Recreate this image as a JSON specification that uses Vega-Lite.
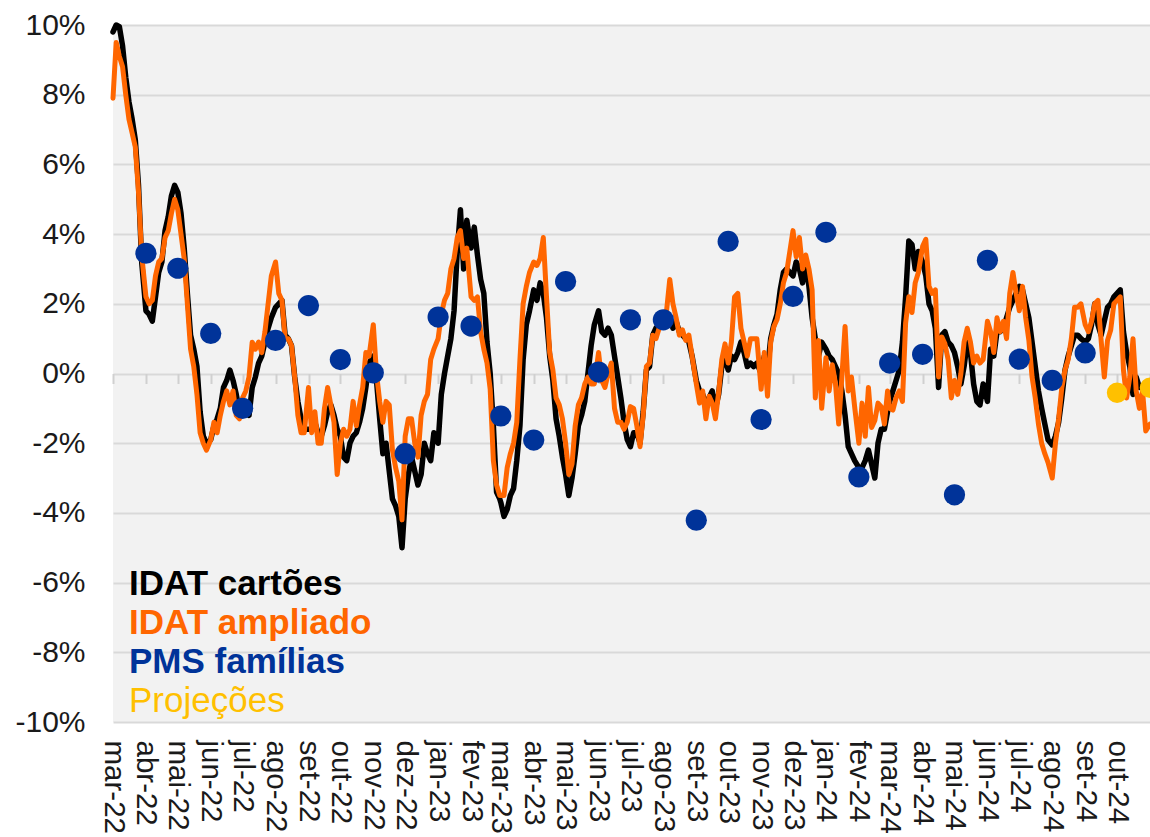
{
"$schema": "https://vega.github.io/schema/vega-lite/v6.json",
"width": 1037, "height": 697,
"autosize": {"type": "none"},
"padding": {"left": 113, "top": 25, "right": 0, "bottom": 115},
"background": "white",
"config": {
  "view": {"fill": "#f2f2f2", "stroke": null},
  "font": "Liberation Sans",
  "axis": {"labelFont": "Liberation Sans", "labelColor": "#1a1a1a"}
},
"datasets": {
"idat": [
{"d":"2022-03-01","c":9.8,"a":7.9},{"d":"2022-03-04","c":10.0,"a":9.5},{"d":"2022-03-07","c":9.95,"a":9.1},{"d":"2022-03-10","c":9.4,"a":8.8},{"d":"2022-03-13","c":8.5,"a":8.0},{"d":"2022-03-16","c":7.8,"a":7.3},{"d":"2022-03-19","c":7.3,"a":6.9},{"d":"2022-03-22","c":6.7,"a":6.5},{"d":"2022-03-25","c":5.4,"a":5.2},{"d":"2022-03-28","c":3.2,"a":3.4},
{"d":"2022-04-01","c":1.8,"a":2.2},{"d":"2022-04-04","c":1.7,"a":2.0},{"d":"2022-04-07","c":1.5,"a":2.1},{"d":"2022-04-10","c":2.2,"a":2.8},{"d":"2022-04-13","c":2.9,"a":3.2},{"d":"2022-04-16","c":3.2,"a":3.3},{"d":"2022-04-19","c":4.1,"a":3.9},{"d":"2022-04-22","c":4.5,"a":4.1},{"d":"2022-04-25","c":5.1,"a":4.6},{"d":"2022-04-28","c":5.4,"a":5.0},
{"d":"2022-05-01","c":5.2,"a":4.7},{"d":"2022-05-04","c":4.6,"a":4.0},{"d":"2022-05-07","c":3.6,"a":3.3},{"d":"2022-05-10","c":2.3,"a":2.0},{"d":"2022-05-13","c":1.1,"a":0.7},{"d":"2022-05-16","c":0.7,"a":0.2},{"d":"2022-05-19","c":0.2,"a":-0.6},{"d":"2022-05-22","c":-1.1,"a":-1.7},{"d":"2022-05-25","c":-1.8,"a":-2.0},{"d":"2022-05-28","c":-2.0,"a":-2.2},
{"d":"2022-06-01","c":-1.9,"a":-1.9},{"d":"2022-06-04","c":-1.5,"a":-1.4},{"d":"2022-06-07","c":-1.3,"a":-1.7},{"d":"2022-06-10","c":-1.0,"a":-1.2},{"d":"2022-06-13","c":-0.4,"a":-0.8},{"d":"2022-06-16","c":-0.2,"a":-0.5},{"d":"2022-06-19","c":0.1,"a":-0.9},{"d":"2022-06-22","c":-0.2,"a":-0.5},{"d":"2022-06-25","c":-0.6,"a":-1.2},{"d":"2022-06-28","c":-1.1,"a":-1.3},
{"d":"2022-07-01","c":-1.1,"a":-0.7},{"d":"2022-07-04","c":-1.1,"a":-0.5},{"d":"2022-07-07","c":-1.2,"a":-0.1},{"d":"2022-07-10","c":-0.4,"a":0.9},{"d":"2022-07-13","c":-0.1,"a":0.7},{"d":"2022-07-16","c":0.3,"a":0.9},{"d":"2022-07-19","c":0.5,"a":0.6},{"d":"2022-07-22","c":0.9,"a":1.2},{"d":"2022-07-25","c":1.3,"a":2.0},{"d":"2022-07-28","c":1.6,"a":2.8},
{"d":"2022-08-01","c":1.9,"a":3.2},{"d":"2022-08-04","c":2.0,"a":2.3},{"d":"2022-08-07","c":2.1,"a":2.1},{"d":"2022-08-10","c":1.1,"a":1.0},{"d":"2022-08-13","c":1.0,"a":1.0},{"d":"2022-08-16","c":0.8,"a":0.8},{"d":"2022-08-19","c":-0.1,"a":-0.1},{"d":"2022-08-22","c":-0.8,"a":-1.2},{"d":"2022-08-25","c":-1.3,"a":-1.7},{"d":"2022-08-28","c":-1.6,"a":-1.7},
{"d":"2022-09-01","c":-1.6,"a":-0.4},{"d":"2022-09-04","c":-1.6,"a":-1.7},{"d":"2022-09-07","c":-1.4,"a":-1.1},{"d":"2022-09-10","c":-1.7,"a":-2.0},{"d":"2022-09-13","c":-1.8,"a":-2.0},{"d":"2022-09-16","c":-1.5,"a":-1.0},{"d":"2022-09-19","c":-1.1,"a":-0.4},{"d":"2022-09-22","c":-0.9,"a":-0.9},{"d":"2022-09-25","c":-1.2,"a":-1.4},{"d":"2022-09-28","c":-1.6,"a":-2.9},
{"d":"2022-10-01","c":-1.8,"a":-2.0},{"d":"2022-10-04","c":-2.4,"a":-1.6},{"d":"2022-10-07","c":-2.5,"a":-1.8},{"d":"2022-10-10","c":-2.0,"a":-1.6},{"d":"2022-10-13","c":-1.8,"a":-0.8},{"d":"2022-10-16","c":-1.7,"a":-1.5},{"d":"2022-10-19","c":-1.4,"a":-0.9},{"d":"2022-10-22","c":-1.0,"a":-0.4},{"d":"2022-10-25","c":-0.4,"a":0.6},{"d":"2022-10-28","c":0.3,"a":0.5},
{"d":"2022-11-01","c":0.5,"a":1.4},{"d":"2022-11-04","c":-0.2,"a":0.0},{"d":"2022-11-07","c":-1.3,"a":-0.8},{"d":"2022-11-10","c":-2.3,"a":-1.4},{"d":"2022-11-13","c":-2.0,"a":-0.8},{"d":"2022-11-16","c":-2.8,"a":-0.9},{"d":"2022-11-19","c":-3.6,"a":-2.2},{"d":"2022-11-22","c":-3.8,"a":-2.7},{"d":"2022-11-25","c":-4.1,"a":-3.1},{"d":"2022-11-28","c":-5.0,"a":-4.2},
{"d":"2022-12-01","c":-3.6,"a":-1.8},{"d":"2022-12-04","c":-2.9,"a":-1.3},{"d":"2022-12-07","c":-2.4,"a":-1.3},{"d":"2022-12-10","c":-2.8,"a":-2.0},{"d":"2022-12-13","c":-3.2,"a":-2.4},{"d":"2022-12-16","c":-2.9,"a":-1.2},{"d":"2022-12-19","c":-2.0,"a":-0.8},{"d":"2022-12-22","c":-2.3,"a":-0.6},{"d":"2022-12-25","c":-2.5,"a":0.4},{"d":"2022-12-28","c":-1.7,"a":0.7},
{"d":"2023-01-01","c":-2.0,"a":1.0},{"d":"2023-01-04","c":-0.6,"a":1.7},{"d":"2023-01-07","c":0.0,"a":2.1},{"d":"2023-01-10","c":0.5,"a":2.3},{"d":"2023-01-13","c":1.0,"a":3.0},{"d":"2023-01-16","c":1.8,"a":3.3},{"d":"2023-01-19","c":3.5,"a":3.9},{"d":"2023-01-22","c":4.7,"a":4.1},{"d":"2023-01-25","c":3.0,"a":3.3},{"d":"2023-01-28","c":4.4,"a":3.6},
{"d":"2023-02-01","c":3.6,"a":2.2},{"d":"2023-02-04","c":4.2,"a":2.1},{"d":"2023-02-07","c":3.4,"a":2.2},{"d":"2023-02-10","c":2.7,"a":1.2},{"d":"2023-02-13","c":2.3,"a":0.7},{"d":"2023-02-16","c":0.9,"a":0.3},{"d":"2023-02-19","c":0.0,"a":-0.45},{"d":"2023-02-22","c":-1.5,"a":-2.5},{"d":"2023-02-25","c":-3.4,"a":-3.2},{"d":"2023-02-28","c":-3.6,"a":-3.5},
{"d":"2023-03-01","c":-3.7,"a":-3.5},{"d":"2023-03-04","c":-4.1,"a":-3.5},{"d":"2023-03-07","c":-3.9,"a":-2.7},{"d":"2023-03-10","c":-3.5,"a":-2.3},{"d":"2023-03-13","c":-3.3,"a":-2.0},{"d":"2023-03-16","c":-2.5,"a":-1.4},{"d":"2023-03-19","c":-1.5,"a":0.4},{"d":"2023-03-22","c":0.4,"a":2.0},{"d":"2023-03-25","c":1.4,"a":2.5},{"d":"2023-03-28","c":1.8,"a":2.9},
{"d":"2023-04-01","c":2.4,"a":3.2},{"d":"2023-04-04","c":2.1,"a":3.1},{"d":"2023-04-07","c":2.6,"a":3.3},{"d":"2023-04-10","c":2.3,"a":3.9},{"d":"2023-04-13","c":1.6,"a":2.2},{"d":"2023-04-16","c":0.5,"a":0.6},{"d":"2023-04-19","c":-0.2,"a":0.1},{"d":"2023-04-22","c":-1.3,"a":-0.7},{"d":"2023-04-25","c":-1.8,"a":-0.9},{"d":"2023-04-28","c":-2.4,"a":-1.3},
{"d":"2023-05-01","c":-2.9,"a":-2.0},{"d":"2023-05-04","c":-3.5,"a":-2.9},{"d":"2023-05-07","c":-3.0,"a":-2.6},{"d":"2023-05-10","c":-2.3,"a":-1.5},{"d":"2023-05-13","c":-1.5,"a":-0.9},{"d":"2023-05-16","c":-1.2,"a":-0.7},{"d":"2023-05-19","c":-0.8,"a":-0.3},{"d":"2023-05-22","c":0.0,"a":-0.1},{"d":"2023-05-25","c":0.8,"a":-0.3},{"d":"2023-05-28","c":1.4,"a":-0.3},
{"d":"2023-06-01","c":1.8,"a":0.6},{"d":"2023-06-04","c":1.2,"a":-0.2},{"d":"2023-06-07","c":1.1,"a":-0.4},{"d":"2023-06-10","c":1.3,"a":0.0},{"d":"2023-06-13","c":1.1,"a":0.3},{"d":"2023-06-16","c":0.5,"a":-1.0},{"d":"2023-06-19","c":-0.1,"a":-1.4},{"d":"2023-06-22","c":-0.7,"a":-1.4},{"d":"2023-06-25","c":-1.4,"a":-1.6},{"d":"2023-06-28","c":-1.9,"a":-1.4},
{"d":"2023-07-01","c":-2.1,"a":-0.95},{"d":"2023-07-04","c":-1.7,"a":-1.0},{"d":"2023-07-07","c":-1.7,"a":-1.5},{"d":"2023-07-10","c":-2.0,"a":-2.1},{"d":"2023-07-13","c":-1.1,"a":-1.2},{"d":"2023-07-16","c":0.1,"a":0.2},{"d":"2023-07-19","c":0.2,"a":0.3},{"d":"2023-07-22","c":1.1,"a":1.1},{"d":"2023-07-25","c":1.3,"a":1.0},{"d":"2023-07-28","c":1.4,"a":1.3},
{"d":"2023-08-01","c":1.4,"a":1.4},{"d":"2023-08-04","c":1.5,"a":1.8},{"d":"2023-08-07","c":1.6,"a":2.7},{"d":"2023-08-10","c":1.3,"a":2.0},{"d":"2023-08-13","c":1.5,"a":1.6},{"d":"2023-08-16","c":1.2,"a":1.1},{"d":"2023-08-19","c":1.1,"a":1.25},{"d":"2023-08-22","c":1.0,"a":0.95},{"d":"2023-08-25","c":0.9,"a":1.1},{"d":"2023-08-28","c":0.5,"a":0.5},
{"d":"2023-09-01","c":-0.2,"a":-0.3},{"d":"2023-09-04","c":-0.5,"a":-0.85},{"d":"2023-09-07","c":-0.6,"a":-0.5},{"d":"2023-09-10","c":-0.9,"a":-1.3},{"d":"2023-09-13","c":-0.7,"a":-0.65},{"d":"2023-09-16","c":-0.5,"a":-0.85},{"d":"2023-09-19","c":-1.0,"a":-1.3},{"d":"2023-09-22","c":-0.6,"a":-0.55},{"d":"2023-09-25","c":0.2,"a":0.4},{"d":"2023-09-28","c":0.4,"a":0.85},
{"d":"2023-10-01","c":0.1,"a":0.3},{"d":"2023-10-04","c":0.5,"a":0.9},{"d":"2023-10-07","c":0.4,"a":2.2},{"d":"2023-10-10","c":0.6,"a":2.3},{"d":"2023-10-13","c":0.9,"a":1.3},{"d":"2023-10-16","c":0.6,"a":0.9},{"d":"2023-10-19","c":0.2,"a":0.5},{"d":"2023-10-22","c":0.3,"a":1.0},{"d":"2023-10-25","c":0.2,"a":1.0},{"d":"2023-10-28","c":0.3,"a":1.0},
{"d":"2023-11-01","c":0.0,"a":-0.45},{"d":"2023-11-04","c":0.5,"a":0.6},{"d":"2023-11-07","c":0.1,"a":-0.65},{"d":"2023-11-10","c":1.0,"a":0.9},{"d":"2023-11-13","c":1.4,"a":1.35},{"d":"2023-11-16","c":1.7,"a":1.55},{"d":"2023-11-19","c":2.4,"a":2.0},{"d":"2023-11-22","c":2.9,"a":2.6},{"d":"2023-11-25","c":3.0,"a":2.9},{"d":"2023-11-28","c":2.9,"a":3.5},
{"d":"2023-12-01","c":2.8,"a":4.1},{"d":"2023-12-04","c":3.2,"a":3.35},{"d":"2023-12-07","c":3.0,"a":3.9},{"d":"2023-12-10","c":2.6,"a":3.0},{"d":"2023-12-13","c":3.2,"a":3.4},{"d":"2023-12-16","c":2.5,"a":3.0},{"d":"2023-12-19","c":1.6,"a":2.4},{"d":"2023-12-22","c":1.0,"a":-0.7},{"d":"2023-12-25","c":0.5,"a":0.95},{"d":"2023-12-28","c":0.9,"a":-1.0},
{"d":"2024-01-01","c":0.7,"a":0.45},{"d":"2024-01-04","c":0.5,"a":-0.5},{"d":"2024-01-07","c":0.4,"a":0.25},{"d":"2024-01-10","c":0.2,"a":-0.3},{"d":"2024-01-13","c":0.0,"a":-1.45},{"d":"2024-01-16","c":-0.5,"a":-0.1},{"d":"2024-01-19","c":-1.2,"a":1.35},{"d":"2024-01-22","c":-2.1,"a":-0.5},{"d":"2024-01-25","c":-2.3,"a":-0.1},{"d":"2024-01-28","c":-2.5,"a":-0.95},
{"d":"2024-02-01","c":-2.7,"a":-2.0},{"d":"2024-02-04","c":-2.7,"a":-0.85},{"d":"2024-02-07","c":-2.5,"a":-1.8},{"d":"2024-02-10","c":-2.2,"a":-0.4},{"d":"2024-02-13","c":-2.6,"a":-1.55},{"d":"2024-02-16","c":-3.0,"a":-1.35},{"d":"2024-02-19","c":-2.0,"a":-0.85},{"d":"2024-02-22","c":-1.6,"a":-0.95},{"d":"2024-02-25","c":-1.6,"a":-1.45},{"d":"2024-02-28","c":-1.1,"a":-0.5},
{"d":"2024-03-01","c":-0.8,"a":-1.0},{"d":"2024-03-04","c":-0.5,"a":-1.05},{"d":"2024-03-07","c":-0.2,"a":-0.7},{"d":"2024-03-10","c":0.1,"a":-0.5},{"d":"2024-03-13","c":0.9,"a":-0.8},{"d":"2024-03-16","c":2.2,"a":1.45},{"d":"2024-03-19","c":3.8,"a":2.2},{"d":"2024-03-22","c":3.7,"a":1.75},{"d":"2024-03-25","c":3.0,"a":2.6},{"d":"2024-03-28","c":3.5,"a":2.9},
{"d":"2024-04-01","c":3.2,"a":3.65},{"d":"2024-04-04","c":2.8,"a":3.85},{"d":"2024-04-07","c":2.0,"a":2.5},{"d":"2024-04-10","c":1.8,"a":2.3},{"d":"2024-04-13","c":1.3,"a":2.4},{"d":"2024-04-16","c":-0.4,"a":-0.1},{"d":"2024-04-19","c":1.1,"a":1.05},{"d":"2024-04-22","c":1.2,"a":0.85},{"d":"2024-04-25","c":0.9,"a":0.4},{"d":"2024-04-28","c":0.8,"a":-0.7},
{"d":"2024-05-01","c":0.6,"a":-0.2},{"d":"2024-05-04","c":0.2,"a":-0.6},{"d":"2024-05-07","c":-0.3,"a":0.0},{"d":"2024-05-10","c":0.2,"a":0.9},{"d":"2024-05-13","c":0.9,"a":1.3},{"d":"2024-05-16","c":0.6,"a":0.9},{"d":"2024-05-19","c":-0.3,"a":0.3},{"d":"2024-05-22","c":-0.8,"a":0.5},{"d":"2024-05-25","c":-0.9,"a":0.3},{"d":"2024-05-28","c":-0.3,"a":0.4},
{"d":"2024-06-01","c":-0.8,"a":1.5},{"d":"2024-06-04","c":0.7,"a":1.2},{"d":"2024-06-07","c":0.5,"a":0.6},{"d":"2024-06-10","c":1.2,"a":1.6},{"d":"2024-06-13","c":1.2,"a":1.2},{"d":"2024-06-16","c":1.3,"a":1.5},{"d":"2024-06-19","c":1.6,"a":1.0},{"d":"2024-06-22","c":1.9,"a":2.3},{"d":"2024-06-25","c":2.1,"a":2.9},{"d":"2024-06-28","c":2.3,"a":2.3},
{"d":"2024-07-01","c":2.5,"a":1.8},{"d":"2024-07-04","c":2.4,"a":2.5},{"d":"2024-07-07","c":2.0,"a":1.6},{"d":"2024-07-10","c":1.6,"a":0.95},{"d":"2024-07-13","c":0.9,"a":-0.1},{"d":"2024-07-16","c":0.2,"a":-0.7},{"d":"2024-07-19","c":-0.5,"a":-1.45},{"d":"2024-07-22","c":-1.0,"a":-2.0},{"d":"2024-07-25","c":-1.45,"a":-2.3},{"d":"2024-07-28","c":-1.9,"a":-2.55},
{"d":"2024-08-01","c":-2.05,"a":-3.0},{"d":"2024-08-04","c":-1.8,"a":-2.0},{"d":"2024-08-07","c":-1.4,"a":-1.3},{"d":"2024-08-10","c":-0.7,"a":-0.4},{"d":"2024-08-13","c":0.1,"a":0.1},{"d":"2024-08-16","c":0.5,"a":0.4},{"d":"2024-08-19","c":0.8,"a":1.0},{"d":"2024-08-22","c":1.1,"a":1.9},{"d":"2024-08-25","c":1.1,"a":1.9},{"d":"2024-08-28","c":1.0,"a":2.0},
{"d":"2024-09-01","c":0.9,"a":1.4},{"d":"2024-09-04","c":1.0,"a":1.2},{"d":"2024-09-07","c":1.4,"a":1.5},{"d":"2024-09-10","c":2.0,"a":2.0},{"d":"2024-09-13","c":1.4,"a":2.1},{"d":"2024-09-16","c":1.1,"a":0.95},{"d":"2024-09-19","c":1.5,"a":-0.1},{"d":"2024-09-22","c":1.9,"a":0.95},{"d":"2024-09-25","c":2.0,"a":1.25},{"d":"2024-09-28","c":2.2,"a":2.0},
{"d":"2024-10-01","c":2.3,"a":2.1},{"d":"2024-10-04","c":2.4,"a":2.2},{"d":"2024-10-07","c":1.2,"a":0.1},{"d":"2024-10-10","c":0.6,"a":-0.7},{"d":"2024-10-13","c":0.2,"a":-0.1},{"d":"2024-10-16","c":-0.6,"a":1.0},{"d":"2024-10-19","c":-0.1,"a":-0.5},{"d":"2024-10-22","c":-0.4,"a":-1.0},{"d":"2024-10-25","c":null,"a":-0.5},{"d":"2024-10-28","c":null,"a":-1.65},
{"d":"2024-11-01","c":null,"a":-1.45}
],
"pms": [
{"d":"2022-04-01","v":3.45},{"d":"2022-05-01","v":3.02},{"d":"2022-06-01","v":1.15},{"d":"2022-07-01","v":-1.0},{"d":"2022-08-01","v":0.95},{"d":"2022-09-01","v":1.95},{"d":"2022-10-01","v":0.4},{"d":"2022-11-01","v":0.02},{"d":"2022-12-01","v":-2.3},
{"d":"2023-01-01","v":1.62},{"d":"2023-02-01","v":1.36},{"d":"2023-03-01","v":-1.22},{"d":"2023-04-01","v":-1.91},{"d":"2023-05-01","v":2.64},{"d":"2023-06-01","v":0.04},{"d":"2023-07-01","v":1.54},{"d":"2023-08-01","v":1.54},{"d":"2023-09-01","v":-4.21},{"d":"2023-10-01","v":3.79},{"d":"2023-11-01","v":-1.32},{"d":"2023-12-01","v":2.21},
{"d":"2024-01-01","v":4.05},{"d":"2024-02-01","v":-2.97},{"d":"2024-03-01","v":0.3},{"d":"2024-04-01","v":0.55},{"d":"2024-05-01","v":-3.48},{"d":"2024-06-01","v":3.25},{"d":"2024-07-01","v":0.41},{"d":"2024-08-01","v":-0.2},{"d":"2024-09-01","v":0.59}
],
"proj": [
{"d":"2024-10-01","v":-0.55},{"d":"2024-11-01","v":-0.41}
]
},
"resolve": {"axis": {"x": "independent"}},
"layer": [
{
  "data": {"name": "idat"},
  "mark": {"type": "line", "strokeWidth": 5.5, "strokeJoin": "round", "strokeCap": "round"},
  "encoding": {
    "x": {"field": "d", "type": "temporal",
      "scale": {"type": "utc", "nice": false, "domain": [{"year": 2022, "month": 3, "date": 1, "utc": true}, {"year": 2024, "month": 11, "date": 1, "utc": true}]},
      "axis": {"orient": "bottom", "title": null, "grid": false, "domain": false, "ticks": false, "tickSize": 0,
        "tickCount": {"interval": "month", "step": 1},
        "labelAngle": 90, "labelAlign": "left", "labelBaseline": "middle", "labelPadding": 18, "labelFontSize": 29.5, "labelFlush": false, "labelOverlap": false,
        "labelExpr": "(utcyear(datum.value) == 2024 && utcmonth(datum.value) == 10) ? '' : ['jan','fev','mar','abr','mai','jun','jul','ago','set','out','nov','dez'][utcmonth(datum.value)] + '-' + utcFormat(datum.value, '%y')"}},
    "y": {"field": "c", "type": "quantitative", "title": null,
      "scale": {"domain": [-10, 10], "nice": false, "zero": false},
      "axis": {"values": [-10, -8, -6, -4, -2, 0, 2, 4, 6, 8, 10], "labelExpr": "datum.value + '%'", "grid": true, "gridColor": "#d9d9d9", "gridWidth": 2, "domain": false, "ticks": false, "tickSize": 0, "labelPadding": 28, "labelFontSize": 30}},
    "color": {"datum": "IDAT cartões", "type": "nominal",
      "scale": {"domain": ["IDAT cartões", "IDAT ampliado", "PMS famílias", "Projeções"], "range": ["#000000", "#ff6600", "#003399", "#ffc000"]},
      "legend": {"orient": "none", "legendX": -19, "legendY": 541, "title": null, "padding": 0, "symbolSize": 0, "symbolOpacity": 0, "symbolStrokeWidth": 0, "labelOffset": 0, "labelFontSize": 35, "labelFont": "Liberation Sans", "labelLimit": 0, "rowPadding": 3,
        "encode": {"symbols": {"update": {"opacity": {"value": 0}}}, "labels": {"update": {"fill": {"scale": "color", "field": "value"}, "fontWeight": {"signal": "datum.value === 'Projeções' ? 'normal' : 'bold'"}}}}}}
  }
},
{
  "data": {"name": "idat"},
  "mark": {"type": "line", "strokeWidth": 5, "strokeJoin": "round", "strokeCap": "round"},
  "encoding": {
    "x": {"field": "d", "type": "temporal",
      "axis": {"orient": "bottom", "offset": -348.5, "title": null, "labels": false, "domain": false, "grid": false, "ticks": true, "tickSize": 10, "tickWidth": 2, "tickColor": "#d0d0d0", "tickCount": {"interval": "month", "step": 1}}},
    "y": {"field": "a", "type": "quantitative", "title": null},
    "color": {"datum": "IDAT ampliado", "type": "nominal"}
  }
},
{
  "data": {"name": "pms"},
  "mark": {"type": "circle", "size": 450, "opacity": 1},
  "encoding": {
    "x": {"field": "d", "type": "temporal", "axis": null},
    "y": {"field": "v", "type": "quantitative", "title": null},
    "color": {"datum": "PMS famílias", "type": "nominal"}
  }
},
{
  "data": {"name": "proj"},
  "mark": {"type": "circle", "size": 420, "opacity": 1},
  "encoding": {
    "x": {"field": "d", "type": "temporal", "axis": null},
    "y": {"field": "v", "type": "quantitative", "title": null},
    "color": {"datum": "Projeções", "type": "nominal"}
  }
}
]
}
